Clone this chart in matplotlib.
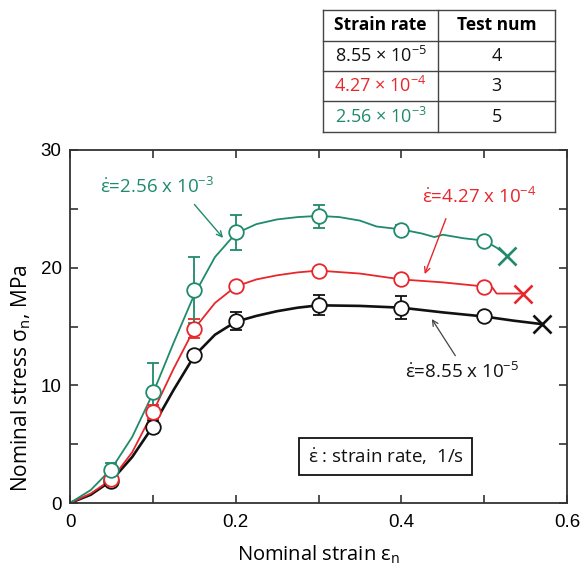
import matplotlib
matplotlib.use("Agg")
import matplotlib.pyplot as plt
from matplotlib.ticker import MultipleLocator

plt.rcParams['font.family'] = ['Open Sans', 'DejaVu Sans']
plt.rcParams['mathtext.fontset'] = 'custom'
plt.rcParams['mathtext.rm'] = 'Open Sans'
plt.rcParams['mathtext.it'] = 'Open Sans:italic'
plt.rcParams['mathtext.bf'] = 'Open Sans:bold'

GREEN = '#1f8a6c'
RED = '#e8262b'
BLACK = '#111111'

# ---- data -------------------------------------------------------------
# measured points (mean +- error)
pt_strain = [0.05, 0.10, 0.15, 0.20, 0.30, 0.40, 0.50]
green_mean = [2.8, 9.4, 18.1, 23.0, 24.35, 23.2, 22.25]
green_err = [0.6, 2.5, 2.8, 1.5, 1.0, 0.4, 0.0]
red_mean = [2.0, 7.75, 14.8, 18.45, 19.75, 19.0, 18.35]
red_err = [0.3, 0.6, 0.8, 0.0, 0.0, 0.0, 0.0]
black_mean = [1.85, 6.45, 12.55, 15.45, 16.8, 16.6, 15.85]
black_err = [0.3, 0.5, 0.4, 0.75, 0.85, 1.0, 0.0]

# continuous stress-strain curves
green_x = [0, 0.025, 0.05, 0.075, 0.1, 0.125, 0.15, 0.175, 0.2, 0.225, 0.25, 0.275,
           0.3, 0.325, 0.35, 0.37, 0.4, 0.425, 0.44, 0.45, 0.475, 0.5, 0.515, 0.528]
green_y = [0, 1.1, 2.9, 5.6, 9.3, 13.6, 17.7, 20.9, 22.9, 23.7, 24.1, 24.3,
           24.4, 24.3, 24.0, 23.5, 23.25, 22.9, 22.6, 22.8, 22.5, 22.3, 21.7, 21.0]
red_x = [0, 0.025, 0.05, 0.075, 0.1, 0.125, 0.15, 0.175, 0.2, 0.225, 0.25, 0.275,
         0.3, 0.35, 0.4, 0.45, 0.5, 0.51, 0.515, 0.547]
red_y = [0, 0.8, 2.0, 4.3, 7.7, 11.4, 14.8, 17.0, 18.4, 19.0, 19.35, 19.6,
         19.75, 19.5, 19.0, 18.75, 18.4, 18.3, 17.8, 17.8]
black_x = [0, 0.025, 0.05, 0.075, 0.1, 0.125, 0.15, 0.175, 0.2, 0.225, 0.25, 0.275,
           0.3, 0.35, 0.4, 0.45, 0.5, 0.535, 0.57]
black_y = [0, 0.7, 1.9, 3.9, 6.5, 9.6, 12.5, 14.3, 15.4, 15.9, 16.3, 16.6,
           16.8, 16.75, 16.6, 16.2, 15.85, 15.5, 15.2]

# fracture points
green_end = (0.528, 21.0)
red_end = (0.547, 17.8)
black_end = (0.570, 15.2)

# table
tbl_rates = [r'8.55 $\times$ 10$^{-5}$', r'4.27 $\times$ 10$^{-4}$', r'2.56 $\times$ 10$^{-3}$']
tbl_nums = ['4', '3', '5']
tbl_colors = [BLACK, RED, GREEN]

# ---- figure -----------------------------------------------------------
W, H = 582, 567
fig = plt.figure(figsize=(W / 100, H / 100), dpi=100)
ax = fig.add_axes([70 / W, 1 - 503 / H, 497 / W, 353 / H])

series = [
    (black_x, black_y, black_mean, black_err, black_end, BLACK, 1.9),
    (red_x, red_y, red_mean, red_err, red_end, RED, 1.3),
    (green_x, green_y, green_mean, green_err, green_end, GREEN, 1.3),
]
for cx, cy, m, e, end, col, lw in series:
    ax.plot(cx, cy, color=col, lw=lw, zorder=2)
    ax.errorbar(pt_strain, m, yerr=e, fmt='o', ms=10.5, mfc='white', mec=col, mew=1.3,
                ecolor=col, elinewidth=1.3, capsize=4.5, capthick=1.3, zorder=3)
    ax.plot([end[0]], [end[1]], marker='x', ms=13, mew=1.9, color=col, zorder=4)

ax.set_xlim(0, 0.6)
ax.set_ylim(0, 30)
ax.xaxis.set_major_locator(MultipleLocator(0.2))
ax.xaxis.set_minor_locator(MultipleLocator(0.1))
ax.yaxis.set_major_locator(MultipleLocator(10))
ax.yaxis.set_minor_locator(MultipleLocator(5))
ax.set_xticks([0, 0.2, 0.4, 0.6])
ax.set_xticklabels(['0', '0.2', '0.4', '0.6'])
for which in ('major', 'minor'):
    ax.tick_params(axis='both', which=which, direction='in', top=True, right=True,
                   length=6, width=1.2, color='#333333')
ax.tick_params(axis='both', which='major', labelsize=13.5, pad=6)
ax.tick_params(axis='x', which='major', pad=8)
for lab in ax.get_xticklabels() + ax.get_yticklabels():
    lab.set_family(['Liberation Sans', 'DejaVu Sans'])
for s in ax.spines.values():
    s.set_linewidth(1.3)
    s.set_color('#333333')

ax.set_xlabel(r'Nominal strain ε$_\mathrm{n}$', fontsize=14.5)
ax.xaxis.set_label_coords(0.5, -0.115)
ax.set_ylabel(r'Nominal stress σ$_\mathrm{n}$, MPa', fontsize=15)
ax.yaxis.set_label_coords(-0.074, 0.353)

# annotations
ax.text(0.036, 26.85, r'$\dot{\mathrm{\varepsilon}}$=2.56 x 10$^{-3}$', color=GREEN,
        fontsize=13.5, ha='left', va='center')
ax.annotate('', xy=(0.187, 22.35), xytext=(0.148, 25.55),
            arrowprops=dict(arrowstyle='->', color=GREEN, lw=1.0))
ax.text(0.494, 26.0, r'$\dot{\mathrm{\varepsilon}}$=4.27 x 10$^{-4}$', color=RED,
        fontsize=13.5, ha='center', va='center')
ax.annotate('', xy=(0.427, 19.23), xytext=(0.455, 24.38),
            arrowprops=dict(arrowstyle='->', color=RED, lw=1.0))
ax.text(0.473, 11.13, r'$\dot{\mathrm{\varepsilon}}$=8.55 x 10$^{-5}$', color=BLACK,
        fontsize=13.5, ha='center', va='center')
ax.annotate('', xy=(0.435, 15.83), xytext=(0.467, 12.32),
            arrowprops=dict(arrowstyle='->', color='#444444', lw=0.9))
ax.text(0.381, 3.93, r'$\dot{\mathrm{\varepsilon}}$ : strain rate,  1/s', color=BLACK,
        fontsize=13.5, ha='center', va='center',
        bbox=dict(boxstyle='square,pad=0.45', fc='white', ec=BLACK, lw=1.3))

# table drawn in pixel space
tx0, tx1, tmid = 323, 555, 438
rows = [10, 41, 71, 101, 132]
def fx(px):
    return px / W
def fy(py):
    return 1 - py / H
lc = '#444444'
for r in rows:
    fig.add_artist(plt.Line2D([fx(tx0), fx(tx1)], [fy(r), fy(r)], color=lc, lw=1.0))
for c in (tx0, tmid, tx1):
    fig.add_artist(plt.Line2D([fx(c), fx(c)], [fy(rows[0]), fy(rows[-1])], color=lc, lw=1.0))
c1 = (tx0 + tmid) / 2
c2 = (tmid + tx1) / 2
fig.text(fx(c1), fy((rows[0] + rows[1]) / 2), 'Strain rate', fontsize=12.5, fontweight='bold',
         ha='center', va='center')
fig.text(fx(c2), fy((rows[0] + rows[1]) / 2), 'Test num', fontsize=12.5, fontweight='bold',
         ha='center', va='center')
for i, (rt, n, col) in enumerate(zip(tbl_rates, tbl_nums, tbl_colors)):
    yc = fy((rows[i + 1] + rows[i + 2]) / 2)
    fig.text(fx(c1), yc, rt, fontsize=13, color=col, ha='center', va='center')
    fig.text(fx(c2), yc, n, fontsize=13, color=BLACK, ha='center', va='center')

fig.savefig('out.png', dpi=100)
